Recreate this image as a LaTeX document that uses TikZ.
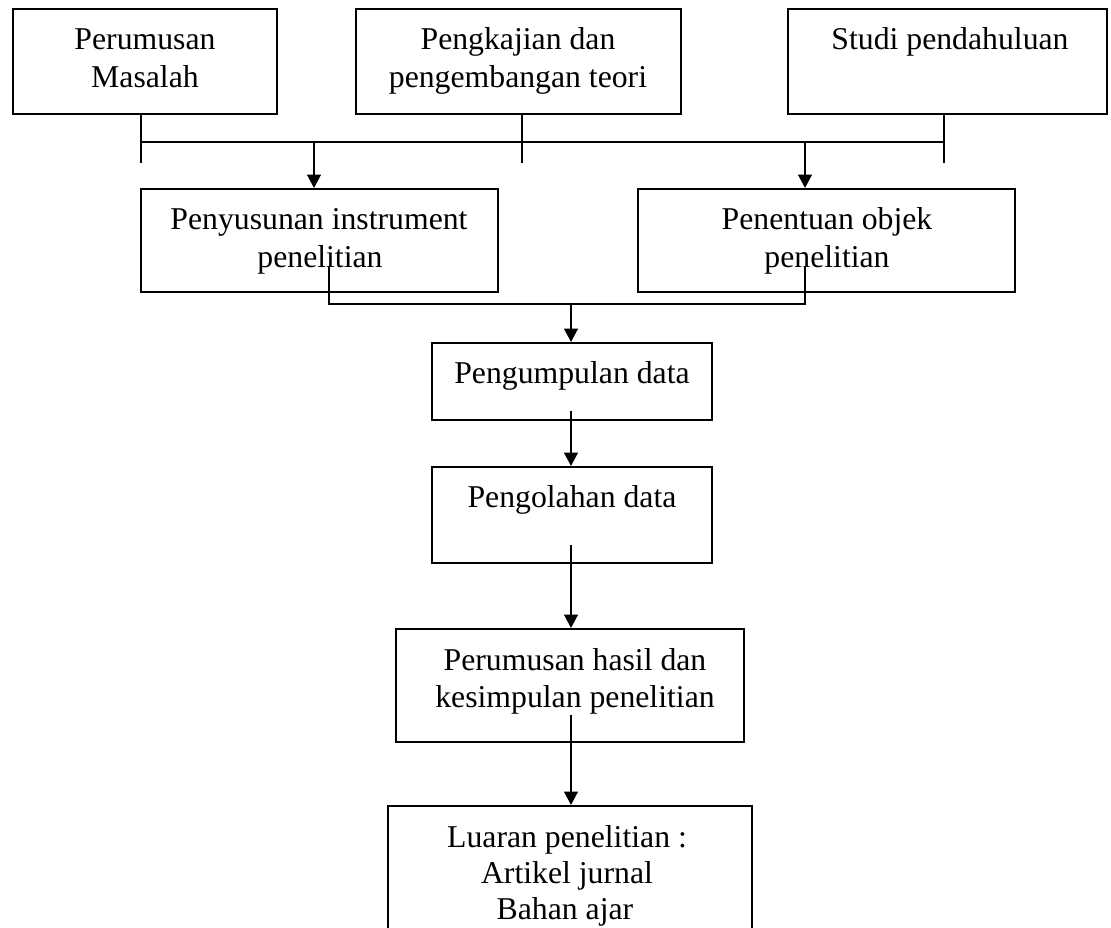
\documentclass[tikz,border=0pt]{standalone}
\usepackage{fontspec}
\setmainfont{Liberation Serif}
\usetikzlibrary{arrows.meta,fit}
\tikzset{
  box/.style={draw=black,line width=1.4pt,inner sep=0pt,rectangle},
  txt/.style={anchor=base,inner sep=0pt,font=\fontsize{23.8}{28}\selectfont},
  thin/.style={line width=1.2pt},
  arr/.style={line width=2pt,-{Triangle[length=10pt,width=10pt]}}
}
\begin{document}
\begin{tikzpicture}[x=0.75pt,y=-0.75pt]
\useasboundingbox[fill=white] (0,0) rectangle (1111,928);
\clip (0,0) rectangle (1111,928);
% boxes
\node[box,fit={(13,9) (277,114)}] (b1) {};
\node[box,fit={(356,9) (681,114)}] (b2) {};
\node[box,fit={(788,9) (1107,114)}] (b3) {};
\node[box,fit={(141,189) (498,292)}] (b4) {};
\node[box,fit={(638,189) (1015,292)}] (b5) {};
\node[box,fit={(432,343) (712,420)}] (b6) {};
\node[box,fit={(432,467) (712,563)}] (b7) {};
\node[box,fit={(396,629) (744,742)}] (b8) {};
\node[box,fit={(388,806) (752,960)}] (b9) {};
% texts
\node[txt] (t1a) at (145,49) {Perumusan};
\node[txt] (t1b) at (145,87) {Masalah};
\node[txt] (t2a) at (518,49) {Pengkajian dan};
\node[txt] (t2b) at (518,87) {pengembangan teori};
\node[txt] (t3a) at (950,50) {Studi pendahuluan};
\node[txt] (t4a) at (319,229) {Penyusunan instrument};
\node[txt] (t4b) at (320,267) {penelitian};
\node[txt] (t5a) at (827,229) {Penentuan objek};
\node[txt] (t5b) at (827,267) {penelitian};
\node[txt] (t6a) at (572,383) {Pengumpulan data};
\node[txt] (t7a) at (572,507) {Pengolahan data};
\node[txt] (t8a) at (575,670) {Perumusan hasil dan};
\node[txt] (t8b) at (575,707) {kesimpulan penelitian};
\node[txt] (t9a) at (567,847) {Luaran penelitian :};
\node[txt] (t9b) at (567,883) {Artikel jurnal};
\node[txt] (t9c) at (565,919) {Bahan ajar};
% junction coordinates
\coordinate (jL) at (141,142);
\coordinate (jM) at (522,142);
\coordinate (jR) at (944,142);
\coordinate (eL) at (141,163);
\coordinate (eM) at (522,163);
\coordinate (eR) at (944,163);
\coordinate (aL) at (314,142);
\coordinate (aR) at (805,142);
\coordinate (mL) at (329,267);
\coordinate (mR) at (805,267);
\coordinate (mid) at (571,304);
\coordinate (s6) at (571,411);
\coordinate (s7) at (571,545);
\coordinate (s8) at (571,715);
% connectors
\draw[thin] (jL |- b1.south) -- (eL);
\draw[thin] (jM |- b2.south) -- (eM);
\draw[thin] (jR |- b3.south) -- (eR);
\draw[thin] (jL) -- (jR);
\draw[arr] (aL) -- (aL |- b4.north);
\draw[arr] (aR) -- (aR |- b5.north);
\draw[thin] (mL) -- (mL |- mid) -- (mid -| mR) -- (mR);
\draw[arr] (mid) -- (mid |- b6.north);
\draw[arr] (s6) -- (s6 |- b7.north);
\draw[arr] (s7) -- (s7 |- b8.north);
\draw[arr] (s8) -- (s8 |- b9.north);
\end{tikzpicture}
\end{document}
